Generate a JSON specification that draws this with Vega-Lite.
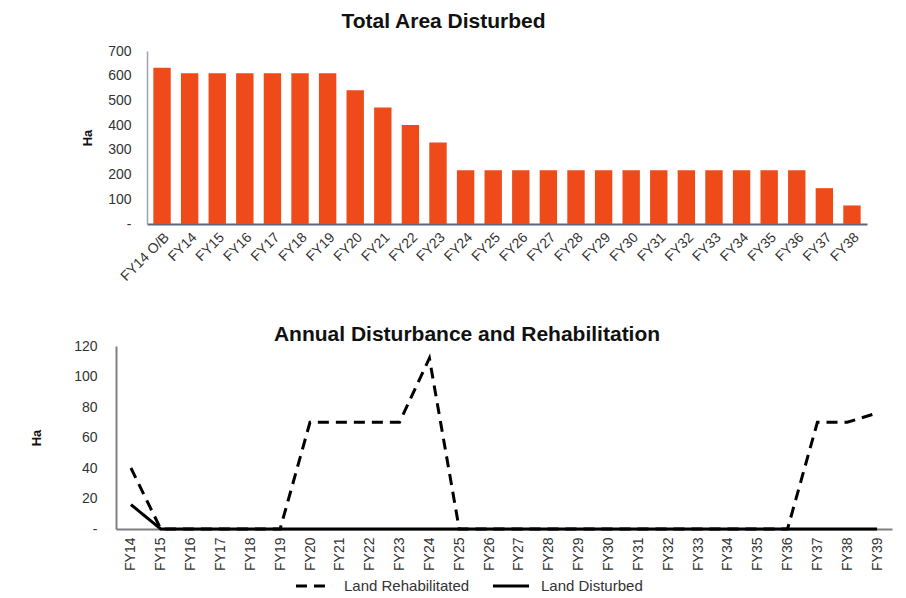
{
  "$schema": "https://vega.github.io/schema/vega-lite/v6.json",
  "background": "white",
  "padding": {"left": 30, "top": 11, "right": 5, "bottom": 0},
  "spacing": 40,
  "config": {
    "view": {"stroke": null},
    "font": "Liberation Sans",
    "axis": {"labelFont": "Liberation Sans", "titleFont": "Liberation Sans", "labelColor": "#333333", "grid": false, "ticks": false}
  },
  "vconcat": [
    {
      "title": {"text": "Total Area Disturbed", "fontSize": 21, "fontWeight": "bold", "color": "#111111", "anchor": "middle", "frame": "group", "dx": -48, "offset": 12},
      "width": 751,
      "height": 173,
      "data": {"values": [
        {"year": "FY14 O/B", "ha": 632},
        {"year": "FY14", "ha": 610},
        {"year": "FY15", "ha": 610},
        {"year": "FY16", "ha": 610},
        {"year": "FY17", "ha": 610},
        {"year": "FY18", "ha": 610},
        {"year": "FY19", "ha": 610},
        {"year": "FY20", "ha": 541},
        {"year": "FY21", "ha": 471},
        {"year": "FY22", "ha": 401},
        {"year": "FY23", "ha": 330},
        {"year": "FY24", "ha": 217},
        {"year": "FY25", "ha": 217},
        {"year": "FY26", "ha": 217},
        {"year": "FY27", "ha": 217},
        {"year": "FY28", "ha": 217},
        {"year": "FY29", "ha": 217},
        {"year": "FY30", "ha": 217},
        {"year": "FY31", "ha": 217},
        {"year": "FY32", "ha": 217},
        {"year": "FY33", "ha": 217},
        {"year": "FY34", "ha": 217},
        {"year": "FY35", "ha": 217},
        {"year": "FY36", "ha": 217},
        {"year": "FY37", "ha": 145},
        {"year": "FY38", "ha": 75}
      ]},
      "mark": {"type": "bar", "color": "#EF4A1A"},
      "encoding": {
        "x": {
          "field": "year", "type": "nominal", "sort": null,
          "scale": {"range": [31, 751], "paddingInner": 0.37, "paddingOuter": 0.23},
          "axis": {"title": null, "labelAngle": -45, "labelFontSize": 14, "labelPadding": 6, "domainColor": "#59667A", "domainWidth": 2}
        },
        "y": {
          "field": "ha", "type": "quantitative",
          "scale": {"domain": [0, 700], "nice": false},
          "axis": {"title": "Ha", "titleFontSize": 13, "titleFontWeight": "bold", "titleColor": "#111111", "titlePadding": 13, "values": [0, 100, 200, 300, 400, 500, 600, 700], "labelExpr": "datum.value === 0 ? '-' : datum.label", "labelFontSize": 14, "labelPadding": 16, "offset": -31, "domainColor": "#9AA3B5", "domainWidth": 1.5}
        }
      }
    },
    {
      "title": {"text": "Annual Disturbance and Rehabilitation", "fontSize": 21, "fontWeight": "bold", "color": "#111111", "anchor": "middle", "frame": "group", "dx": -37, "offset": -6},
      "width": 776,
      "height": 183,
      "data": {"values": [
        {"year": "FY14", "series": "Land Rehabilitated", "ha": 40},
        {"year": "FY15", "series": "Land Rehabilitated", "ha": 0},
        {"year": "FY16", "series": "Land Rehabilitated", "ha": 0},
        {"year": "FY17", "series": "Land Rehabilitated", "ha": 0},
        {"year": "FY18", "series": "Land Rehabilitated", "ha": 0},
        {"year": "FY19", "series": "Land Rehabilitated", "ha": 0},
        {"year": "FY20", "series": "Land Rehabilitated", "ha": 70},
        {"year": "FY21", "series": "Land Rehabilitated", "ha": 70},
        {"year": "FY22", "series": "Land Rehabilitated", "ha": 70},
        {"year": "FY23", "series": "Land Rehabilitated", "ha": 70},
        {"year": "FY24", "series": "Land Rehabilitated", "ha": 112},
        {"year": "FY25", "series": "Land Rehabilitated", "ha": 0},
        {"year": "FY26", "series": "Land Rehabilitated", "ha": 0},
        {"year": "FY27", "series": "Land Rehabilitated", "ha": 0},
        {"year": "FY28", "series": "Land Rehabilitated", "ha": 0},
        {"year": "FY29", "series": "Land Rehabilitated", "ha": 0},
        {"year": "FY30", "series": "Land Rehabilitated", "ha": 0},
        {"year": "FY31", "series": "Land Rehabilitated", "ha": 0},
        {"year": "FY32", "series": "Land Rehabilitated", "ha": 0},
        {"year": "FY33", "series": "Land Rehabilitated", "ha": 0},
        {"year": "FY34", "series": "Land Rehabilitated", "ha": 0},
        {"year": "FY35", "series": "Land Rehabilitated", "ha": 0},
        {"year": "FY36", "series": "Land Rehabilitated", "ha": 0},
        {"year": "FY37", "series": "Land Rehabilitated", "ha": 70},
        {"year": "FY38", "series": "Land Rehabilitated", "ha": 70},
        {"year": "FY39", "series": "Land Rehabilitated", "ha": 76},
        {"year": "FY14", "series": "Land Disturbed", "ha": 16},
        {"year": "FY15", "series": "Land Disturbed", "ha": 0},
        {"year": "FY16", "series": "Land Disturbed", "ha": 0},
        {"year": "FY17", "series": "Land Disturbed", "ha": 0},
        {"year": "FY18", "series": "Land Disturbed", "ha": 0},
        {"year": "FY19", "series": "Land Disturbed", "ha": 0},
        {"year": "FY20", "series": "Land Disturbed", "ha": 0},
        {"year": "FY21", "series": "Land Disturbed", "ha": 0},
        {"year": "FY22", "series": "Land Disturbed", "ha": 0},
        {"year": "FY23", "series": "Land Disturbed", "ha": 0},
        {"year": "FY24", "series": "Land Disturbed", "ha": 0},
        {"year": "FY25", "series": "Land Disturbed", "ha": 0},
        {"year": "FY26", "series": "Land Disturbed", "ha": 0},
        {"year": "FY27", "series": "Land Disturbed", "ha": 0},
        {"year": "FY28", "series": "Land Disturbed", "ha": 0},
        {"year": "FY29", "series": "Land Disturbed", "ha": 0},
        {"year": "FY30", "series": "Land Disturbed", "ha": 0},
        {"year": "FY31", "series": "Land Disturbed", "ha": 0},
        {"year": "FY32", "series": "Land Disturbed", "ha": 0},
        {"year": "FY33", "series": "Land Disturbed", "ha": 0},
        {"year": "FY34", "series": "Land Disturbed", "ha": 0},
        {"year": "FY35", "series": "Land Disturbed", "ha": 0},
        {"year": "FY36", "series": "Land Disturbed", "ha": 0},
        {"year": "FY37", "series": "Land Disturbed", "ha": 0},
        {"year": "FY38", "series": "Land Disturbed", "ha": 0},
        {"year": "FY39", "series": "Land Disturbed", "ha": 0}
      ]},
      "mark": {"type": "line", "color": "black", "strokeWidth": 3, "strokeCap": "butt"},
      "encoding": {
        "x": {
          "field": "year", "type": "nominal", "sort": null,
          "scale": {"type": "point", "padding": 0.5},
          "axis": {"title": null, "labelAngle": -90, "labelFontSize": 14, "labelPadding": 8, "domainColor": "#7F7F7F", "domainWidth": 2}
        },
        "y": {
          "field": "ha", "type": "quantitative",
          "scale": {"domain": [0, 120], "nice": false},
          "axis": {"title": "Ha", "titleFontSize": 13, "titleFontWeight": "bold", "titleColor": "#111111", "titlePadding": 30, "values": [0, 20, 40, 60, 80, 100, 120], "labelExpr": "datum.value === 0 ? '-' : datum.label", "labelFontSize": 14, "labelPadding": 19, "domainColor": "#7F7F7F", "domainWidth": 2}
        },
        "strokeDash": {
          "field": "series", "type": "nominal",
          "scale": {"domain": ["Land Rehabilitated", "Land Disturbed"], "range": [[11, 7], [1, 0]]},
          "legend": {"title": null, "orient": "none", "legendX": 178, "legendY": 515, "direction": "horizontal", "symbolType": "stroke", "symbolSize": 1300, "symbolStrokeWidth": 3, "symbolStrokeColor": "black", "labelFontSize": 15, "labelOffset": 10, "labelColor": "#333333", "columnPadding": 16, "padding": 0}
        }
      }
    }
  ]
}
